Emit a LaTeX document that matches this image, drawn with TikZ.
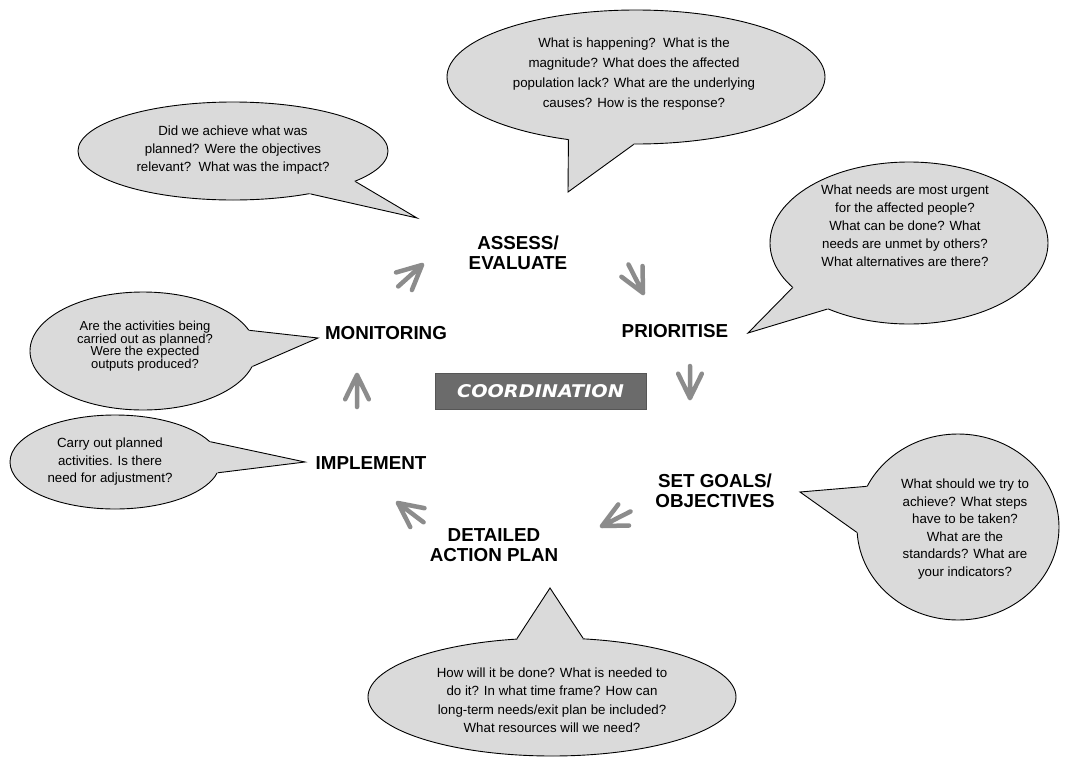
\documentclass[tikz,border=0pt]{standalone}
\usepackage{fontspec}
\setmainfont{Liberation Sans}
\newfontfamily\coordfont[FakeStretch=1.1]{DejaVu Sans}
\usetikzlibrary{shapes.geometric}
\definecolor{cfill}{HTML}{DADADA}
\definecolor{agray}{HTML}{8C8C8C}
\definecolor{boxgray}{HTML}{6B6B6B}
\tikzset{
  bubblesh/.style={ellipse, draw=black, line width=0.9pt, fill=cfill, inner sep=0pt},
  outl/.style={draw=black, line width=0.9pt, line join=miter},
  btext/.style={align=center, inner sep=0pt, font=\fontsize{13.3}{18}\selectfont},
  stage/.style={align=center, inner sep=0pt, font=\fontsize{18.8}{19.5}\selectfont\bfseries},
  garrow/.style={draw=agray, line width=4.5pt, line cap=round},
  coordbox/.style={fill=boxgray, draw=boxgray!80!black, line width=0.6pt, minimum width=211pt, minimum height=36pt, inner sep=0pt, text=white, font=\coordfont\fontsize{17.5}{18}\selectfont\bfseries\itshape}
}
\newcommand\bubble[7]{%
  \node[bubblesh, minimum width=#3, minimum height=#4] (#1) at #2 {};
  \fill[cfill] (#1.#5) -- (#7) -- (#1.#6) -- (#1.center) -- cycle;
  \draw[outl] (#1.#5) -- (#7) -- (#1.#6);
}
\newcommand\garr[2]{%
  \draw[garrow] (#1) -- ++(#2+180:32pt) (#1) -- ++(#2+154:27pt) (#1) -- ++(#2+206:27pt);
}
\begin{document}
\begin{tikzpicture}[x=1pt,y=-1pt]
\useasboundingbox[fill=white] (0,0) rectangle (1072,758);

% tips of callouts
\coordinate (t1) at (568,192);
\coordinate (t2) at (417,218);
\coordinate (t3) at (748,333);
\coordinate (t4) at (318,338);
\coordinate (t5) at (305,462);
\coordinate (t6) at (800,492);
\coordinate (t7) at (550,588);

\bubble{b1}{(636,77)}{378pt}{134pt}{-137}{-92}{t1}
\bubble{b2}{(233,151)}{310pt}{98pt}{-14}{-29}{t2}
\bubble{b3}{(909,243)}{278pt}{162pt}{-159}{-141}{t3}
\bubble{b4}{(143,351)}{226pt}{118pt}{11}{-8}{t4}
\bubble{b5}{(115,462)}{210pt}{94pt}{12}{-6}{t5}
\bubble{b6}{(958,527)}{202pt}{186pt}{156}{183}{t6}
\bubble{b7}{(552,697)}{368pt}{118pt}{121}{62}{t7}

\node[btext, font=\fontsize{13.3}{20}\selectfont] (q1) at (634,74) {What is happening?\ \ What is the\\magnitude? What does the affected\\population lack? What are the underlying\\causes? How is the response?};
\node[btext] (q2) at (233,150) {Did we achieve what was\\planned? Were the objectives\\relevant?\ \ What was the impact?};
\node[btext] (q3) at (905,226) {What needs are most urgent\\for the affected people?\\What can be done? What\\needs are unmet by others?\\What alternatives are there?};
\node[btext, font=\fontsize{13}{12.7}\selectfont] (q4) at (145,346) {Are the activities being\\carried out as planned?\\Were the expected\\outputs produced?};
\node[btext, font=\fontsize{13.3}{17.5}\selectfont] (q5) at (110,462) {Carry out planned\\activities. Is there\\need for adjustment?};
\node[btext, font=\fontsize{13.3}{17.5}\selectfont] (q6) at (965,529) {What should we try to\\achieve? What steps\\have to be taken?\\What are the\\standards? What are\\your indicators?};
\node[btext, font=\fontsize{13.3}{18.5}\selectfont] (q7) at (552,700) {How will it be done? What is needed to\\do it? In what time frame? How can\\long-term needs/exit plan be included?\\What resources will we need?};

% stages
\node[stage] (assess) at (518,253) {ASSESS/\\EVALUATE};
\node[stage] (prior) at (675,331) {PRIORITISE};
\node[stage] (goals) at (715,491) {SET GOALS/\\OBJECTIVES};
\node[stage] (plan) at (494,545) {DETAILED\\ACTION PLAN};
\node[stage] (impl) at (371,463) {IMPLEMENT};
\node[stage] (mon) at (386,333) {MONITORING};

\node[coordbox] (coord) at (540.5,391) {COORDINATION};

% cycle arrows
\coordinate (a1) at (422,265);
\coordinate (a2) at (643,293);
\coordinate (a3) at (690,398);
\coordinate (a4) at (602,526);
\coordinate (a5) at (398,503);
\coordinate (a6) at (357,375);
\garr{a1}{42}
\garr{a2}{-63}
\garr{a3}{-90}
\garr{a4}{207}
\garr{a5}{143}
\garr{a6}{90}
\end{tikzpicture}
\end{document}
